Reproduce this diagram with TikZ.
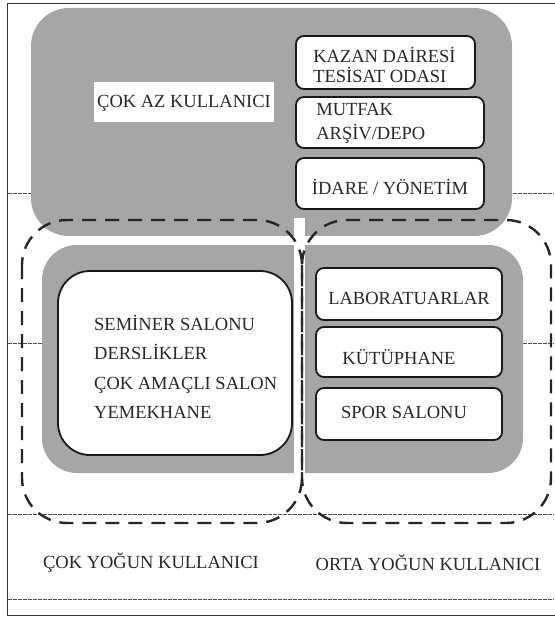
\documentclass[tikz,border=0pt]{standalone}
\usepackage{fontspec}
\setmainfont{Liberation Serif}
\definecolor{zonegray}{RGB}{166,166,166}
\definecolor{inkgray}{RGB}{40,40,40}

\begin{document}
\begin{tikzpicture}[x = 1pt, y = -1pt,
        roombox/.style = {draw = black!90, line width = 1.8pt, fill = white, rounded corners = 8pt, inner sep = 0pt},
        roomtext/.style = {text = inkgray, inner sep = 0pt, font = \fontsize{18.5}{20}\selectfont},
        zone/.style = {fill = zonegray, rounded corners = 38pt},
        usage/.style = {draw = black!85, line width = 2.4pt, dash pattern = on 14pt off 9pt, rounded corners = 45pt},
        level/.style = {draw = black!70, line width = 0.9pt, dash pattern = on 3.5pt off 1.5pt}]
    \useasboundingbox (0,0) rectangle (554,617);
    \draw[line width = 1pt, black!80] (7,4) rectangle (560,615);
    \foreach \y in {193, 343, 514, 599}
        \draw[level] (8,\y) -- (554,\y);

    \fill[zone] (31,8) rectangle (512,236);
    \fill[zone, rounded corners = 35pt] (42,245) rectangle (523,473);
    \fill[white] (294,218) rectangle (305,476);

    \node[fill = white, minimum width = 180pt, minimum height = 40pt, inner sep = 0pt] (azlabel) at (184,102) {};
    \node[roomtext] (aztext) at (184,103) {ÇOK AZ KULLANICI};

    \node[roombox, minimum width = 179pt, minimum height = 53pt] (kazan) at (385.5,62.5) {};
    \node[roomtext, anchor = west, align = left] (kazantext) at ([xshift = 18]kazan.west |- 0,65) {KAZAN DAİRESİ\\TESİSAT ODASI};
    \node[roombox, minimum width = 188pt, minimum height = 51pt] (mutfak) at (390,122.5) {};
    \node[roomtext, anchor = west, align = left, font = \fontsize{18.5}{24}\selectfont] (mutfaktext) at ([xshift = 21]mutfak.west |- 0,123) {MUTFAK\\ARŞİV/DEPO};
    \node[roombox, minimum width = 188pt, minimum height = 51pt] (idare) at (390,183.5) {};
    \node[roomtext] (idaretext) at (390,187) {İDARE / YÖNETİM};

    \node[roombox, rounded corners = 32pt, minimum width = 234pt, minimum height = 184pt] (seminer) at (175,363) {};
    \node[roomtext, anchor = west, align = left, font = \fontsize{18.5}{29.4}\selectfont] (seminertext) at (94,367) {SEMİNER SALONU\\DERSLİKLER\\ÇOK AMAÇLI SALON\\YEMEKHANE};

    \node[roombox, minimum width = 186pt, minimum height = 52pt] (lab) at (409,294) {};
    \node[roomtext] (labtext) at (409,298) {LABORATUARLAR};
    \node[roombox, minimum width = 186pt, minimum height = 50pt] (kutup) at (409,352) {};
    \node[roomtext] (kutuptext) at (399,357) {KÜTÜPHANE};
    \node[roombox, minimum width = 186pt, minimum height = 52pt] (spor) at (409,414) {};
    \node[roomtext] (sportext) at (404,412) {SPOR SALONU};

    \draw[usage] (22,220) rectangle (302,523);
    \draw[usage] (302,220) rectangle (551,523);

    \node[roomtext] (yogun) at (151,563) {ÇOK YOĞUN KULLANICI};
    \node[roomtext] (orta) at (428,563) {ORTA YOĞUN KULLANICI};
\end{tikzpicture}
\end{document}
